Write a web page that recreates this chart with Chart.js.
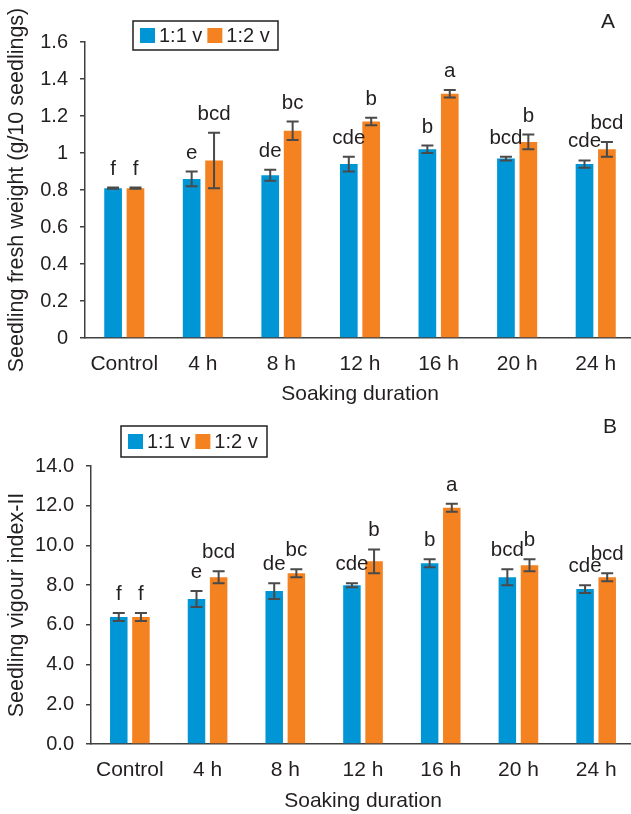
<!DOCTYPE html>
<html><head><meta charset="utf-8">
<script src="https://cdn.jsdelivr.net/npm/chart.js@4.4.1/dist/chart.umd.min.js"></script>
<style>
html,body{margin:0;padding:0;background:#fff;overflow:hidden;width:631px;height:814px;}
.wrap{position:absolute;left:0;}
canvas{display:block;}
</style></head><body>
<div class="wrap" style="top:0"><canvas id="cA" width="640" height="407"></canvas></div>
<div class="wrap" style="top:407px"><canvas id="cB" width="640" height="407"></canvas></div>
<script>
const categories = ['Control', '4 h', '8 h', '12 h', '16 h', '20 h', '24 h'];
const seriesNames = ['1:1 v', '1:2 v'];

const weight11 = [0.81, 0.86, 0.88, 0.94, 1.02, 0.97, 0.94];
const weight12 = [0.81, 0.96, 1.12, 1.17, 1.32, 1.06, 1.02];
const weightErr11 = [0.003, 0.04, 0.03, 0.04, 0.02, 0.01, 0.02];
const weightErr12 = [0.003, 0.15, 0.05, 0.02, 0.02, 0.04, 0.04];

const vigour11 = [6.4, 7.3, 7.7, 8.0, 9.1, 8.4, 7.8];
const vigour12 = [6.4, 8.4, 8.6, 9.2, 11.9, 9.0, 8.4];
const vigourErr11 = [0.2, 0.4, 0.4, 0.1, 0.2, 0.4, 0.2];
const vigourErr12 = [0.2, 0.3, 0.2, 0.6, 0.2, 0.3, 0.2];

const letters11 = ['f', 'e', 'de', 'cde', 'b', 'bcd', 'cde'];
const letters12 = ['f', 'bcd', 'bc', 'b', 'a', 'b', 'bcd'];

const weightTicks = ['0', '0.2', '0.4', '0.6', '0.8', '1', '1.2', '1.4', '1.6'];
const vigourTicks = ['0.0', '2.0', '4.0', '6.0', '8.0', '10.0', '12.0', '14.0'];

const BLUE = '#0096d6';
const ORANGE = '#f58220';
const TXT = '#231f20';
const AXIS = '#404040';
const FONT = '"Liberation Sans", Arial, Helvetica, sans-serif';

const annotPlugin = {
  id: 'annot',
  afterDatasetsDraw(chart, args, opts) {
    const ctx = chart.ctx;
    const ys = chart.scales.y;
    ctx.save();
    chart.data.datasets.forEach((ds, di) => {
      const meta = chart.getDatasetMeta(di);
      meta.data.forEach((bar, i) => {
        const v = ds.data[i], e = ds.errors[i];
        const yt = ys.getPixelForValue(v + e), yb = ys.getPixelForValue(v - e);
        ctx.strokeStyle = '#4a4a4a';
        ctx.lineWidth = 2;
        ctx.beginPath();
        ctx.moveTo(bar.x, yt); ctx.lineTo(bar.x, yb);
        ctx.moveTo(bar.x - 6, yt); ctx.lineTo(bar.x + 6, yt);
        ctx.moveTo(bar.x - 6, yb); ctx.lineTo(bar.x + 6, yb);
        ctx.stroke();
        ctx.fillStyle = TXT;
        ctx.font = '20.5px ' + FONT;
        ctx.textAlign = 'center';
        ctx.textBaseline = 'alphabetic';
        ctx.fillText(ds.letters[i], bar.x, yt - 13);
      });
    });
    // legend box
    const L = opts.legend;
    ctx.strokeStyle = TXT;
    ctx.lineWidth = 1.5;
    ctx.strokeRect(L.x, L.y, L.w, L.h);
    ctx.font = '20px ' + FONT;
    ctx.textAlign = 'left';
    ctx.textBaseline = 'middle';
    let x = L.x + 7;
    const cy = L.y + L.h / 2;
    chart.data.datasets.forEach((ds) => {
      ctx.fillStyle = ds.backgroundColor;
      ctx.fillRect(x, cy - 7.5, 15, 15);
      x += 19;
      ctx.fillStyle = TXT;
      ctx.fillText(ds.label, x, cy + 1);
      x += ctx.measureText(ds.label).width + 5;
    });
    // panel label
    ctx.font = '21px ' + FONT;
    ctx.textAlign = 'center';
    ctx.fillStyle = TXT;
    ctx.fillText(opts.panel, opts.panelX, opts.panelY);
    ctx.restore();
  }
};

function makeChart(id, d1, d2, e1, e2, tickLabels, step, max, yTitle, cfg) {
  return new Chart(document.getElementById(id), {
    type: 'bar',
    data: {
      labels: categories,
      datasets: [
        { label: seriesNames[0], data: d1, errors: e1, letters: letters11, backgroundColor: BLUE, borderWidth: 0 },
        { label: seriesNames[1], data: d2, errors: e2, letters: letters12, backgroundColor: ORANGE, borderWidth: 0 }
      ]
    },
    options: {
      responsive: false,
      animation: false,
      devicePixelRatio: 1,
      categoryPercentage: 0.57,
      barPercentage: 0.79,
      layout: { padding: { top: cfg.top, right: 5, left: 0, bottom: 0 } },
      plugins: {
        legend: { display: false },
        tooltip: { enabled: false },
        annot: { legend: cfg.legend, panel: cfg.panel, panelX: cfg.panelX, panelY: cfg.panelY }
      },
      scales: {
        x: {
          grid: { display: false },
          border: { display: true, color: AXIS, width: 1.5 },
          ticks: { color: TXT, font: { family: FONT, size: 21 }, padding: 6, maxRotation: 0, autoSkip: false },
          title: { display: true, text: 'Soaking duration', color: TXT, font: { family: FONT, size: 21, lineHeight: 1.2 }, padding: 0 },
          afterFit: (s) => { s.height = cfg.xH; }
        },
        y: {
          min: 0, max: max,
          grid: { drawOnChartArea: false, drawTicks: true, tickLength: 5, color: AXIS, lineWidth: 1.5 },
          border: { display: true, color: AXIS, width: 1.5 },
          ticks: {
            stepSize: step, color: TXT, font: { family: FONT, size: 20 }, padding: 12,
            callback: (v, i) => tickLabels[i]
          },
          title: { display: true, text: yTitle, color: TXT, font: { family: FONT, size: 21.5, lineHeight: 1.2 }, padding: { top: 4, bottom: 0 } },
          afterFit: (s) => { s.width = cfg.yW; }
        }
      }
    },
    plugins: [annotPlugin]
  });
}

makeChart('cA', weight11, weight12, weightErr11, weightErr12, weightTicks, 0.2, 1.6,
  'Seedling fresh weight (g/10 seedlings)',
  { top: 42, xH: 69, yW: 85, legend: { x: 133, y: 21, w: 145, h: 29 }, panel: 'A', panelX: 608, panelY: 22 });

makeChart('cB', vigour11, vigour12, vigourErr11, vigourErr12, vigourTicks, 2, 14,
  'Seedling vigour index-II',
  { top: 59, xH: 70, yW: 91, legend: { x: 121, y: 19, w: 146, h: 31 }, panel: 'B', panelX: 610, panelY: 20 });
</script>
</body></html>
